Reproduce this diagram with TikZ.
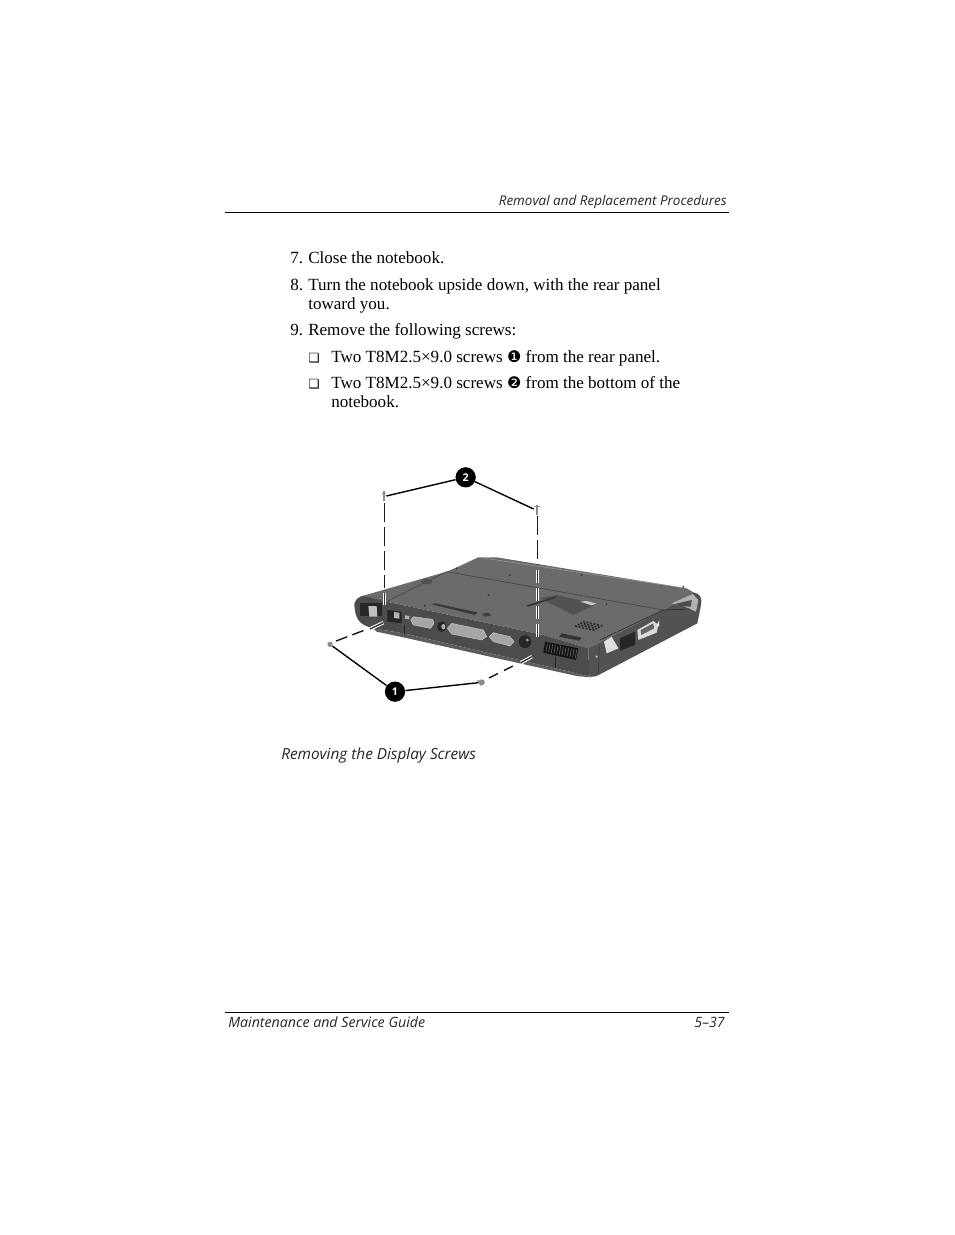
\documentclass[tikz,border=0pt]{standalone}
\usepackage{fontspec}
\setmainfont{Liberation Serif}
\newfontfamily\guidefont{Open Sans}
\newfontfamily\symfont{DejaVu Sans}
\usetikzlibrary{calc}
\usetikzlibrary{backgrounds}

\tikzset{
  bodytext/.style={anchor=base west, inner sep=0pt, font=\fontsize{12.8}{14}\selectfont},
  guidetext/.style={anchor=base west, inner sep=0pt, font=\guidefont\itshape\fontsize{10.1}{12}\selectfont, text=black!85},
  callout/.style={circle, fill=black, text=white, minimum size=15.2pt, inner sep=0pt, font=\guidefont\bfseries\fontsize{8}{9}\selectfont},
  screw/.style={inner sep=0pt, minimum width=1.5pt, minimum height=1.5pt, fill=black!45},
  leader/.style={draw=black, line width=1.05pt},
  blackdash/.style={draw=black!90, line width=1.05pt},
  halodash/.style={draw=black!80, line width=1pt, preaction={draw=white, line width=2.6pt}},
  port/.style={fill=black!35, draw=black!20, line width=0.3pt},
}

\begin{document}
\begin{tikzpicture}[x=0.75pt,y=-0.75pt]
\useasboundingbox (0,0) rectangle (954,1235);
\fill [white] (0,0) rectangle (954,1235);

% page furniture
\node (Head) at (727,205) [guidetext, anchor=base east] {Removal and Replacement Procedures};
\coordinate (HeadL) at (225,212);
\coordinate (HeadR) at (729,212);
\draw [line width=0.6pt] (HeadL) -- (HeadR);

\node (N7) at (290,263) [bodytext] {7.};
\node (T7) at (308,263) [bodytext] {Close the notebook.};
\node (N8) at (290,290) [bodytext] {8.};
\node (T8) at (308,290) [bodytext] {Turn the notebook upside down, with the rear panel};
\node (T8b) at (308,309) [bodytext] {toward you.};
\node (N9) at (290,335) [bodytext] {9.};
\node (T9) at (308,335) [bodytext] {Remove the following screws:};
\node (B1) at (308,362) [bodytext] {\symfont\fontsize{9.5}{10}\selectfont ❏};
\node (L1) at (331,362) [bodytext] {Two T8M2.5×9.0 screws {\symfont\fontsize{12}{12}\selectfont ❶} from the rear panel.};
\node (B2) at (308,388) [bodytext] {\symfont\fontsize{9.5}{10}\selectfont ❏};
\node (L2) at (331,388) [bodytext] {Two T8M2.5×9.0 screws {\symfont\fontsize{12}{12}\selectfont ❷} from the bottom of the};
\node (L2b) at (331,407) [bodytext] {notebook.};

\node (Cap) at (281,759) [guidetext, font=\guidefont\itshape\fontsize{11.5}{13}\selectfont] {Removing the Display Screws};

\coordinate (FootL) at (225,1012);
\coordinate (FootR) at (729,1012);
\draw [line width=0.6pt] (FootL) -- (FootR);
\node (Foot) at (228,1027) [guidetext, font=\guidefont\itshape\fontsize{10.65}{13}\selectfont] {Maintenance and Service Guide};
\node (Page) at (725,1027) [guidetext, anchor=base east, font=\guidefont\itshape\fontsize{10.65}{13}\selectfont] {5–37};

% notebook, in crop coordinates
\begin{scope}[shift={(310,460)},x=0.25pt,y=-0.25pt]
% underside
\fill [black!58] (150,410) -- (410,335) -- (445,320) -- (505,292) -- (560,292) -- (1130,385) -- (1150,397)
  -- (1060,450) -- (835,565) -- (700,525) -- (230,425) -- cycle;
% rear panel
\fill [black!70] (133,432) .. controls (138,415) and (145,412) .. (160,408) -- (230,425) -- (700,525) -- (835,565)
  -- (838,650) -- (800,640) -- (280,520) -- (190,505) .. controls (150,495) and (135,480) .. (133,432);
% side panel
\fill [black!68] (835,565) -- (1060,450) -- (1150,397) .. controls (1170,400) and (1178,415) .. (1173,435)
  -- (1162,490) -- (860,648) -- (838,650) -- cycle;
% lower lip
\fill [black!64] (190,505) -- (280,520) -- (800,640) -- (838,650) -- (860,648) -- (840,652) -- (800,648) -- (280,532) -- (200,515) -- cycle;
% seams and details on the underside
\draw [black!75, line width=0.4pt] (410,335) -- (1060,450);
\draw [black!40, line width=0.4pt] (505,292) -- (1130,385);
\draw [black!75, line width=0.4pt] (230,425) -- (410,335);
\fill [black!78] (365,433) -- (375,430) -- (502,457) -- (495,465) -- cycle;
\fill [black!68] (690,415) -- (740,405) -- (860,432) -- (790,465) -- cycle;
\fill [black!22] (810,425) -- (830,423) -- (860,431) -- (845,436) -- cycle;
\fill [black!68] (350,365) ellipse (18 and 8);
\fill [black!80] (650,436) -- (735,410) -- (738,413) -- (655,440) -- cycle;
\fill [black!75] (515,462) -- (535,458) -- (545,466) -- (525,470) -- cycle;
\foreach \dotx/\doty in {535/405,345/437,600/345,890/432,815/345,1120/380,440/325} {
  \fill [black!80] (\dotx,\doty) circle (3);
}
\foreach \rowy in {0,1,2,3} {
  \draw [black!82, line width=1.3pt, dash pattern=on 1.5pt off 1.2pt] ($(795,498)+(\rowy*8,-\rowy*4.5)$) -- ++(62,14);
}
% rear panel ports
\fill [black!85] (150,428) rectangle (215,468);
\fill [black!25] (175,438) -- (200,438) -- (202,470) -- (178,470) -- cycle;
\fill [black!85] (232,450) -- (275,455) -- (275,490) -- (232,485) -- cycle;
\fill [black!30] (252,456) -- (268,458) -- (268,476) -- (252,474) -- cycle;
\fill [black!30] (285,466) -- (298,468) -- (298,478) -- (285,476) -- cycle;
\fill [port] (302,480) -- (310,470) -- (368,478) -- (372,490) -- (362,505) -- (310,495) -- cycle;
\fill [port] (412,505) -- (425,490) -- (520,510) -- (530,530) -- (515,540) -- (425,522) -- cycle;
\fill [port] (538,530) -- (550,518) -- (600,530) -- (612,545) -- (600,558) -- (550,545) -- cycle;
\fill [black!85] (395,500) ellipse (14 and 16);
\fill [black!30] (400,500) ellipse (6 and 8);
\fill [black!85] (645,545) circle (19);
\fill [black!40] (652,540) circle (5);
% vent
\fill [black!92] (705,545) -- (805,565) -- (798,600) -- (700,578) -- cycle;
\foreach \ventx in {0,1,...,11} {
  \draw [black!62, line width=0.45pt] ($(712,550)+(\ventx*8,\ventx*1.7)$) -- ++(-4,25);
}
% front lip seams
\draw [black!85, line width=0.4pt] (283,495) -- (283,525);
\draw [black!85, line width=0.4pt] (735,590) -- (735,625);
\fill [black!80] (748,530) -- (755,520) -- (815,533) -- (808,542) -- cycle;
% side panel ports
\fill [black!12] (882,545) -- (905,530) -- (925,565) -- (890,580) -- cycle;
\fill [black!85] (930,535) -- (975,515) -- (975,555) -- (930,572) -- cycle;
\fill [black!15] (982,510) -- (1030,483) -- (1045,495) -- (1040,518) -- (985,540) -- cycle;
\fill [black!60] (992,510) -- (1030,490) -- (1032,505) -- (994,525) -- cycle;
\fill [black!8] (1040,495) -- (1047,482) -- (1047,500) -- cycle;
\fill [black!30] (1085,430) -- (1148,402) -- (1165,420) -- (1158,455) -- (1125,440) -- cycle;
\fill [black!70] (1095,432) -- (1145,420) -- (1143,440) -- (1110,438) -- cycle;
\fill [black!30] (860,590) circle (4);
\draw [black!85, line width=0.4pt] (870,540) -- (1060,450) -- (1140,447);
\draw [black!80, line width=0.4pt] (865,640) -- (868,560);

% screws and callouts
\node (ST2) at (222,108) [screw, minimum height=7pt] {};
\node (ST3) at (681,150) [screw, minimum height=8pt, minimum width=2pt] {};
\node (SB1) at (60,553) [screw, circle, minimum width=4pt] {};
\node (SB2) at (515,667) [screw, circle, minimum width=4.5pt] {};
\fill [black!45] (215,99) rectangle (229,103);
\fill [black!45] (673,137) rectangle (689,141);
\fill [black!45] (500,660) -- (525,666) -- (512,678) -- cycle;

\node (C2) at (467,52) [callout] {2};
\node (C1) at (255,695) [callout] {1};
\coordinate (EndTR) at (671,147);
\coordinate (EndTL) at (229,108);
\draw [leader] (C2) -- (EndTL);
\draw [leader] (C2) -- (EndTR);
\draw [leader] (C1) -- (SB1);
\draw [leader] (C1) -- (SB2);

% dashes from the screws into the holes
\coordinate (DL0) at (223.5,130);
\coordinate (DL1) at (223.5,385);
\coordinate (DL2) at (223.5,400);
\coordinate (DL3) at (223.5,435);
\draw [blackdash, dash pattern=on 14pt off 4pt] (DL0) -- (DL1);
\draw [halodash] (DL2) -- (DL3);

\coordinate (DR0) at (682,168);
\coordinate (DR1) at (682,315);
\coordinate (DR2) at (682,330);
\coordinate (DR3) at (682,369);
\coordinate (DR4) at (682,384);
\coordinate (DR5) at (682,423);
\coordinate (DR6) at (682,438);
\coordinate (DR7) at (682,477);
\coordinate (DR8) at (682,492);
\coordinate (DR9) at (682,531);
\draw [blackdash, dash pattern=on 14pt off 4pt] (DR0) -- (DR1);
\draw [halodash] (DR2) -- (DR3);
\draw [halodash] (DR4) -- (DR5);
\draw [halodash] (DR6) -- (DR7);
\draw [halodash] (DR8) -- (DR9);

\coordinate (LL0) at (78,543);
\coordinate (LL1) at (165,510);
\coordinate (LL2) at (180,507);
\coordinate (LL3) at (220,488);
\draw [blackdash, dash pattern=on 9pt off 4pt] (LL0) -- (LL1);
\draw [halodash] (LL2) -- (LL3);

\coordinate (LR0) at (537,654);
\coordinate (LR1) at (615,615);
\coordinate (LR2) at (633,608);
\coordinate (LR3) at (666,590);
\draw [blackdash, dash pattern=on 7.5pt off 5pt] (LR0) -- (LR1);
\draw [halodash] (LR2) -- (LR3);
\end{scope}
\end{tikzpicture}
\end{document}
